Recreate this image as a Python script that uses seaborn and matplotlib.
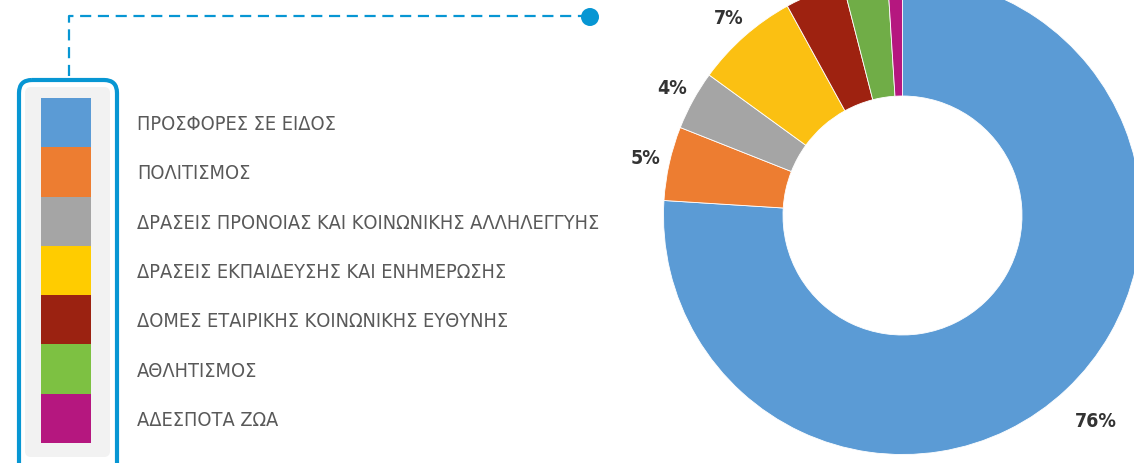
import numpy as np
import matplotlib
matplotlib.use("Agg")
import matplotlib.pyplot as plt
from matplotlib.colors import ListedColormap
from matplotlib.patches import FancyBboxPatch, Circle
import seaborn as sns

# Categories and their shares (%)
categories = [
    "ΠΡΟΣΦΟΡΕΣ ΣΕ ΕΙΔΟΣ",
    "ΠΟΛΙΤΙΣΜΟΣ",
    "ΔΡΑΣΕΙΣ ΠΡΟΝΟΙΑΣ ΚΑΙ ΚΟΙΝΩΝΙΚΗΣ ΑΛΛΗΛΕΓΓΥΗΣ",
    "ΔΡΑΣΕΙΣ ΕΚΠΑΙΔΕΥΣΗΣ ΚΑΙ ΕΝΗΜΕΡΩΣΗΣ",
    "ΔΟΜΕΣ ΕΤΑΙΡΙΚΗΣ ΚΟΙΝΩΝΙΚΗΣ ΕΥΘΥΝΗΣ",
    "ΑΘΛΗΤΙΣΜΟΣ",
    "ΑΔΕΣΠΟΤΑ ΖΩΑ",
]
shares = [76, 5, 4, 7, 4, 3, 1]
share_labels = ["76%", "5%", "4%", "7%", "", "", ""]

ring_colors = ["#5B9BD5", "#ED7D31", "#A5A5A5", "#FBC012", "#9E2210", "#70AD47", "#B5177F"]
swatch_colors = ["#5B9BD5", "#ED7D31", "#A5A5A5", "#FFCC00", "#9B2211", "#7DC142", "#B5177F"]

sns.set_theme(style="white")
FONT = ["DejaVu Sans"]
plt.rcParams["font.family"] = FONT

W, H = 1134, 463
fig = plt.figure(figsize=(W / 100, H / 100), dpi=100)
fig.patch.set_facecolor("white")


def px_axes(left, top, width, height, **kw):
    """Axes placed with pixel coordinates measured from the top-left corner."""
    return fig.add_axes([left / W, (H - top - height) / H, width / W, height / H], **kw)


# Decorative frame, connector line and dot
deco = px_axes(0, 0, W, H)
deco.set_xlim(0, W)
deco.set_ylim(H, 0)
deco.axis("off")
accent = "#0796D3"
deco.add_patch(FancyBboxPatch((19, 80), 98, 420, boxstyle="round,pad=0,rounding_size=13",
                              facecolor="none", edgecolor=accent, linewidth=3.0))
deco.add_patch(FancyBboxPatch((25, 87), 85, 370, boxstyle="round,pad=0,rounding_size=6",
                              facecolor="#F2F2F2", edgecolor="none"))
deco.plot([69, 69, 590], [76, 16, 16], color=accent, linewidth=1.6,
          linestyle=(0, (5, 3)), solid_capstyle="butt")
deco.add_patch(Circle((590, 17), 9, facecolor=accent, edgecolor="none"))

# Colour key: one heatmap cell per category, names as right-hand tick labels
key = px_axes(40.7, 98, 50.5, 345)
cells = np.arange(len(categories)).reshape(-1, 1)
sns.heatmap(cells, ax=key, cmap=ListedColormap(swatch_colors), cbar=False,
            xticklabels=False, yticklabels=categories, linewidths=0)
key.yaxis.tick_right()
key.tick_params(axis="y", length=0, pad=33, labelsize=14.3, labelcolor="#595959",
                labelrotation=0)
for t in key.get_yticklabels():
    t.set_family(FONT)
    t.set_fontstretch("condensed")
    t.set_horizontalalignment("left")

# Donut chart
cx, cy, R = 902.5, 215.5, 239
ax = px_axes(cx - R, cy - R, 2 * R, 2 * R)
wedges, _ = ax.pie(shares, colors=ring_colors, startangle=90, counterclock=False,
                   radius=1.0, wedgeprops=dict(width=0.5, edgecolor="white", linewidth=0.6))
ax.set_xlim(-1, 1)
ax.set_ylim(-1, 1)
ax.set_aspect("equal")
ax.axis("off")

for w, lab in zip(wedges, share_labels):
    if not lab:
        continue
    mid = np.deg2rad((w.theta1 + w.theta2) / 2)
    dist = 1.18 if (w.theta2 - w.theta1) > 180 else 1.1
    ax.text(dist * np.cos(mid), dist * np.sin(mid), lab, ha="center", va="center",
            fontsize=14, fontweight="bold", fontstretch="condensed", color="#333333",
            family=FONT, clip_on=False)

fig.savefig("out.png", dpi=100, facecolor="white")
